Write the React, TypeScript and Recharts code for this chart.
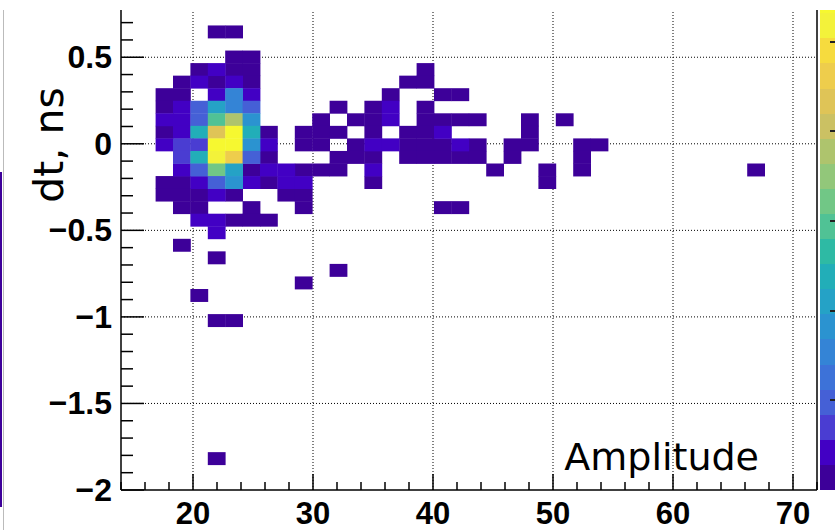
import React from 'react';
import { ScatterChart, Scatter, XAxis, YAxis, ReferenceLine } from 'recharts';

// 2D histogram: 40 x 40 bins
const X_MIN = 14;
const X_MAX = 72;
const Y_MIN = -2;
const Y_MAX = 0.9;
const N_BINS = 40;
const Z_MAX = 28;

const xMajor = [20, 30, 40, 50, 60, 70];
const yMajor = [-2, -1.5, -1, -0.5, 0, 0.5];
const zTicks = [5, 10, 15, 20, 25];

// bins with one entry: [xBin, yBin]
const singleBins = [
  [5, 36], [6, 36],
  [6, 34], [7, 34],
  [4, 33], [6, 33], [7, 33], [17, 33],
  [3, 32], [5, 32], [7, 32], [16, 32], [17, 32],
  [2, 31], [3, 31], [15, 31], [18, 31], [19, 31],
  [2, 30], [12, 30], [14, 30], [17, 30],
  [11, 29], [13, 29], [14, 29], [17, 29], [18, 29], [19, 29], [20, 29], [23, 29], [25, 29],
  [2, 28], [8, 28], [10, 28], [11, 28], [12, 28], [14, 28], [16, 28], [17, 28], [23, 28],
  [10, 27], [11, 27], [13, 27], [16, 27], [17, 27], [18, 27], [20, 27], [22, 27], [23, 27], [26, 27], [27, 27],
  [8, 26], [12, 26], [13, 26], [14, 26], [16, 26], [17, 26], [18, 26], [19, 26], [20, 26], [22, 26], [26, 26],
  [7, 25], [10, 25], [11, 25], [12, 25], [21, 25], [24, 25], [26, 25], [36, 25],
  [2, 24], [3, 24], [8, 24], [14, 24], [24, 24],
  [2, 23], [3, 23], [4, 23], [6, 23], [9, 23], [10, 23],
  [3, 22], [4, 22], [7, 22], [10, 22], [18, 22], [19, 22],
  [6, 21], [7, 21], [8, 21],
  [3, 19], [5, 18], [12, 17], [10, 16], [4, 15], [5, 13], [6, 13], [5, 2],
];

// bins with two entries
const doubleBins = [
  [5, 33], [4, 32], [6, 32], [5, 31], [7, 31],
  [3, 30], [15, 30], [2, 29], [3, 29], [15, 29],
  [3, 28], [18, 28], [2, 27], [8, 27], [14, 27], [15, 27], [19, 27],
  [3, 25], [8, 25], [9, 25], [14, 25],
  [4, 24], [7, 24], [9, 24], [10, 24],
  [5, 23], [4, 21], [5, 21], [5, 20],
];

// core of the distribution: [xBin, yBin, entries]
const coreBins = [
  [6, 31, 8],
  [4, 30, 5], [5, 30, 11], [6, 30, 8], [7, 30, 5],
  [4, 29, 5], [5, 29, 14], [6, 29, 19], [7, 29, 9],
  [4, 28, 12], [5, 28, 21], [6, 28, 27], [7, 28, 12],
  [3, 27, 4], [4, 27, 4], [5, 27, 27], [6, 27, 27], [7, 27, 9],
  [3, 26, 3], [4, 26, 12], [5, 26, 26], [6, 26, 23], [7, 26, 5],
  [4, 25, 5], [5, 25, 16], [6, 25, 10],
  [5, 24, 5], [6, 24, 9],
];

const palette = [
  '#3d0099', '#4200c4', '#4a3dd2', '#4560d6', '#3d72d8',
  '#3484d6', '#2b93d0', '#25a2c6', '#22aeb8', '#2ebaa4',
  '#50c295', '#71c786', '#92c77a', '#aec46d', '#cbc163',
  '#dfc457', '#eecd4c', '#f6db3e', '#f3f23a', '#f6f830',
];

const W = 835;
const CHART_H = 552;
const SHIFT = 22;
const MARGIN = { top: 10, right: 18, bottom: 0, left: 0 };
const Y_AXIS_W = 121;
const X_AXIS_H = 40;
const PLOT_W = W - MARGIN.left - MARGIN.right - Y_AXIS_W;
const PLOT_H = CHART_H - MARGIN.top - MARGIN.bottom - X_AXIS_H;
const CELL_W = PLOT_W / N_BINS;
const CELL_H = PLOT_H / N_BINS;
const BW_X = (X_MAX - X_MIN) / N_BINS;
const BW_Y = (Y_MAX - Y_MIN) / N_BINS;

const levelColor = (n: number) => palette[Math.min(palette.length - 1, Math.floor((n / Z_MAX) * palette.length))];

const toPoint = (ix: number, iy: number, n: number) => ({
  x: X_MIN + (ix + 0.5) * BW_X,
  y: Y_MIN + (iy + 0.5) * BW_Y,
  n,
});

const cells = [
  ...singleBins.map(([ix, iy]) => toPoint(ix, iy, 1)),
  ...doubleBins.map(([ix, iy]) => toPoint(ix, iy, 2)),
  ...coreBins.map(([ix, iy, n]) => toPoint(ix, iy, n)),
];

const xTicks = Array.from({ length: 30 }, (_, i) => X_MIN + i * 2);
const yTicks = Array.from({ length: 30 }, (_, i) => Math.round((Y_MIN + i * 0.1) * 10) / 10);

const labelFont = "'Liberation Sans Narrow', 'Liberation Sans', Arial, sans-serif";
const titleFont = "'DejaVu Sans', sans-serif";

const fmt = (v: number) => (v < 0 ? '\u2212' + Math.abs(v) : String(v));

const XTick = (props: any) => {
  const { x, y, payload } = props;
  const v = payload.value;
  const major = xMajor.includes(v);
  return (
    <g>
      <line x1={x} y1={y} x2={x} y2={y - (major ? 16 : 8)} stroke="#000" strokeWidth={1.5} />
      {major && (
        <text x={x} y={y + 34} textAnchor="middle" fontFamily={labelFont} fontWeight="bold" fontSize={31} fill="#000">
          {v}
        </text>
      )}
    </g>
  );
};

const YTick = (props: any) => {
  const { x, y, payload } = props;
  const v = payload.value;
  const major = yMajor.some((m) => Math.abs(m - v) < 1e-6);
  return (
    <g>
      <line x1={x} y1={y} x2={x + (major ? 23 : 12)} y2={y} stroke="#000" strokeWidth={1.5} />
      {major && (
        <text x={x - 9} y={y + 11} textAnchor="end" fontFamily={labelFont} fontWeight="bold" fontSize={32} fill="#000">
          {fmt(v)}
        </text>
      )}
    </g>
  );
};

const XTitle = (props: any) => {
  const vb = props.viewBox || { x: 121, y: 512, width: 696 };
  return (
    <text x={vb.x + vb.width - 58} y={vb.y - 20} textAnchor="end" fontFamily={titleFont} fontSize={38} fill="#000">
      Amplitude
    </text>
  );
};

const YTitle = (props: any) => {
  const vb = props.viewBox || { x: 0, y: 10 };
  const cx = vb.x + 63;
  const cy = vb.y + 157;
  return (
    <text x={cx} y={cy} transform={`rotate(-90 ${cx} ${cy})`} textAnchor="middle" fontFamily={titleFont} fontSize={41} fill="#000">
      dt, ns
    </text>
  );
};

const Cell2D = (props: any) => {
  const { cx, cy, payload } = props;
  return (
    <rect
      x={cx - CELL_W / 2 - 0.2}
      y={cy - CELL_H / 2 - 0.2}
      width={CELL_W + 0.4}
      height={CELL_H + 0.4}
      fill={levelColor(payload.n)}
    />
  );
};

export default function App() {
  return (
    <div style={{ position: 'absolute', left: 0, top: 0, width: W, height: 530, overflow: 'hidden', background: '#fff' }}>
      <div style={{ position: 'absolute', left: 0, top: -SHIFT }}>
        <ScatterChart width={W} height={CHART_H} margin={MARGIN}>
          <XAxis
            type="number"
            dataKey="x"
            domain={[X_MIN, X_MAX]}
            allowDataOverflow
            ticks={xTicks}
            interval={0}
            height={X_AXIS_H}
            tickSize={0}
            tickMargin={0}
            tickLine={false}
            axisLine={{ stroke: '#000', strokeWidth: 1.5 }}
            tick={XTick}
            label={{ content: XTitle }}
          />
          <YAxis
            type="number"
            dataKey="y"
            domain={[Y_MIN, Y_MAX]}
            allowDataOverflow
            ticks={yTicks}
            interval={0}
            width={Y_AXIS_W}
            tickSize={0}
            tickMargin={0}
            tickLine={false}
            axisLine={{ stroke: '#000', strokeWidth: 1.5 }}
            tick={YTick}
            label={{ content: YTitle }}
          />
          <Scatter data={cells} shape={Cell2D} isAnimationActive={false} />
          {xMajor.map((v) => (
            <ReferenceLine key={'gx' + v} x={v} stroke="#000" strokeWidth={1} strokeDasharray="1 2" />
          ))}
          {yMajor.filter((v) => v !== Y_MIN).map((v) => (
            <ReferenceLine key={'gy' + v} y={v} stroke="#000" strokeWidth={1} strokeDasharray="1 2" />
          ))}
          <ReferenceLine x={X_MAX} stroke="#000" strokeWidth={1.5} />
        </ScatterChart>
      </div>
      {/* palette axis */}
      <div style={{ position: 'absolute', left: 820, top: MARGIN.top - SHIFT, width: 15, height: PLOT_H, display: 'flex', flexDirection: 'column-reverse' }}>
        {palette.map((c) => (
          <div key={c} style={{ flex: 1, background: c }} />
        ))}
      </div>
      {zTicks.map((z) => (
        <div
          key={z}
          style={{
            position: 'absolute',
            left: 830,
            top: MARGIN.top - SHIFT + (1 - z / Z_MAX) * PLOT_H - 1,
            width: 5,
            height: 2,
            background: '#222',
          }}
        />
      ))}
      {/* edge of the neighbouring pad */}
      <div style={{ position: 'absolute', left: 3, top: 10, width: 1, height: 520, background: '#bbb' }} />
      <div style={{ position: 'absolute', left: 0, top: 172, width: 2, height: 335, background: '#3d0099' }} />
      {/* title pad covers the top of the frame */}
      <div style={{ position: 'absolute', left: 0, top: 0, width: W, height: 10, background: '#fff' }} />
    </div>
  );
}
